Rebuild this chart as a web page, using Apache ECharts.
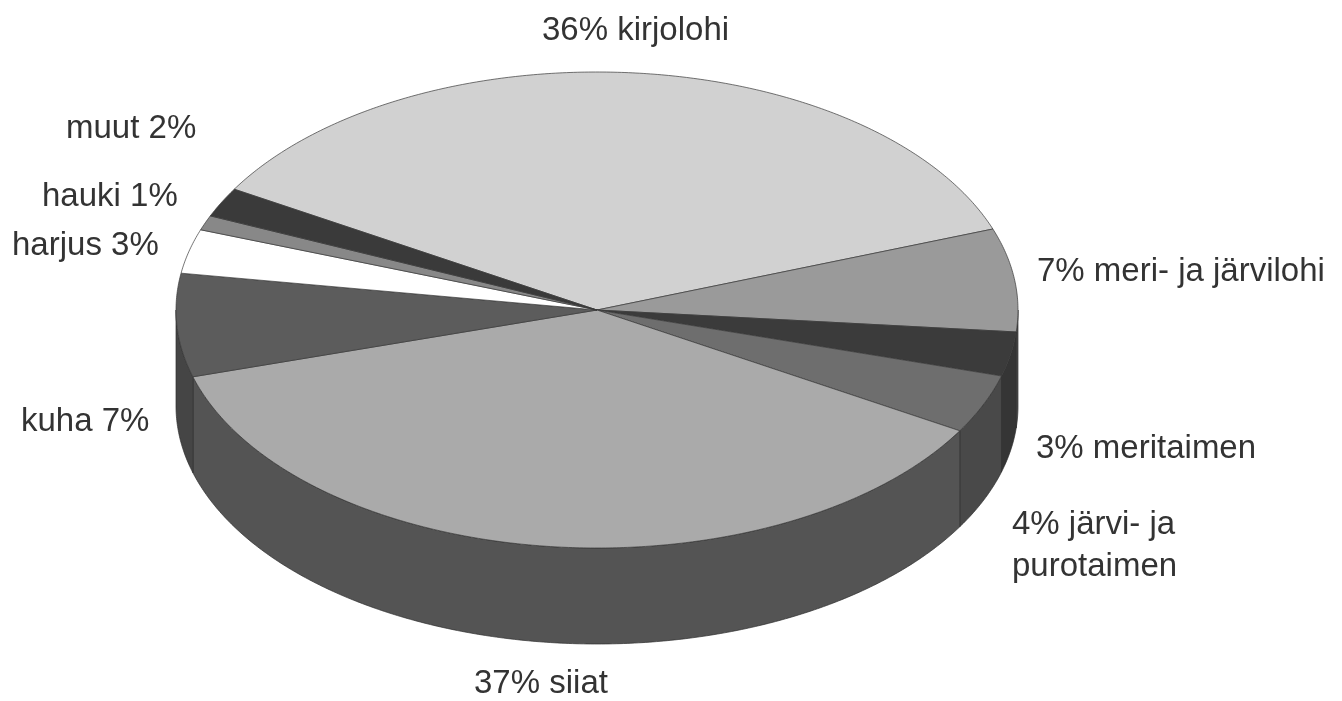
<!DOCTYPE html>
<html><head><meta charset="utf-8">
<script src="https://cdn.jsdelivr.net/npm/echarts@6/dist/echarts.min.js"></script>
<style>html,body{margin:0;padding:0;background:#fff}#main{width:1342px;height:701px}</style>
</head><body><div id="main"></div>
<script>
// ---- data ----
const categories = ['kirjolohi', 'meri- ja järvilohi', 'meritaimen', 'järvi- ja\npurotaimen', 'siiat', 'kuha', 'harjus', 'hauki', 'muut'];
const values = [36, 7, 3, 4, 37, 7, 3, 1, 2];
const nameFirst = [false, false, false, false, false, true, true, true, true];

// ---- styles / layout ----
const topColors  = ['#d1d1d1', '#9a9a9a', '#3b3b3b', '#6e6e6e', '#aaaaaa', '#5c5c5c', '#ffffff', '#888888', '#3a3a3a'];
const wallColors = ['#6a6a6a', '#4c4c4c', '#353535', '#494949', '#545454', '#454545', '#9a9a9a', '#5a5a5a', '#333333'];
const labelPos = [[542, 31], [1037, 272], [1036, 449], [1012, 546], [474, 684], [21, 422], [12, 246], [42, 197], [66, 129]];
const geo = { cx: 597, cy: 310, rx: 421, ry: 238, depth: 96, startAngle: 149.5 };

const total = values.reduce((a, b) => a + b, 0);
let acc = 0;
const seriesData = values.map((v, i) => {
  const d = { name: categories[i], value: [v, acc] };
  acc += v;
  return d;
});

function pt(phiDeg, dy) {
  const r = phiDeg * Math.PI / 180;
  return [geo.cx + geo.rx * Math.cos(r), geo.cy - geo.ry * Math.sin(r) + (dy || 0)];
}
function arc(a, b, dy) { // from angle a down to angle b (a > b)
  const pts = [];
  const n = Math.max(2, Math.ceil((a - b) / 0.5));
  for (let k = 0; k <= n; k++) pts.push(pt(a - (a - b) * k / n, dy));
  return pts;
}

function renderItem(params, api) {
  const i = params.dataIndex;
  const v = api.value(0), before = api.value(1);
  const a1 = geo.startAngle - 360 * before / total;
  const a2 = a1 - 360 * v / total;
  const children = [];
  // side wall (front half only: angles between -180 and 0)
  const wa = Math.min(a1, 0), wb = Math.max(a2, -180);
  if (wa > wb) {
    const topArc = arc(wa, wb, 0);
    const botArc = arc(wa, wb, geo.depth).reverse();
    children.push({
      type: 'polygon', z2: 1,
      shape: { points: topArc.concat(botArc) },
      style: { fill: wallColors[i], stroke: '#2e2e2e', lineWidth: 0.7 }
    });
  }
  // top face
  children.push({
    type: 'polygon', z2: 10,
    shape: { points: [[geo.cx, geo.cy]].concat(arc(a1, a2, 0)) },
    style: { fill: topColors[i], stroke: '#3a3a3a', lineWidth: 0.7, lineJoin: 'round' }
  });
  return { type: 'group', children };
}

const labelGraphics = values.map((v, i) => ({
  type: 'text',
  x: labelPos[i][0], y: labelPos[i][1],
  style: {
    text: nameFirst[i] ? categories[i] + ' ' + v + '%' : v + '% ' + categories[i],
    fill: '#333',
    font: '33px "Liberation Sans", Arial, sans-serif',
    lineHeight: 42,
    align: 'left', verticalAlign: 'middle'
  }
}));

const chart = echarts.init(document.getElementById('main'), null, { renderer: 'canvas' });
chart.setOption({
  backgroundColor: '#ffffff',
  animation: false,
  series: [{
    type: 'custom',
    coordinateSystem: 'none',
    renderItem,
    data: seriesData
  }],
  graphic: labelGraphics
});
</script>
</body></html>
